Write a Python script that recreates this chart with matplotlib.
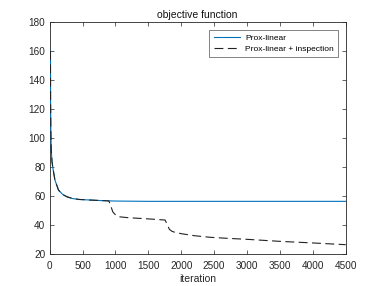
import matplotlib
matplotlib.use("Agg")
import matplotlib.pyplot as plt

# Prox-linear (blue, solid)
it_prox = [12, 14, 18, 24, 35, 50, 80, 135, 200, 260, 350, 450, 615, 800, 1000, 1500, 4500]
val_prox = [160, 125, 105, 92, 84, 79, 71, 64, 61, 59.5, 58.2, 57.6, 57.2, 56.8, 56.5, 56.3, 56.3]

# Prox-linear + inspection (black, dashed)
it_insp = [12, 14, 18, 24, 35, 50, 80, 135, 200, 260, 350, 450, 615, 800, 900,
           930, 960, 1000, 1045, 1200, 1500, 1755, 1790, 1820, 1860, 1900,
           2000, 2200, 2440, 2700, 3000, 3500, 4000, 4500]
val_insp = [160, 125, 105, 92, 84, 79, 71, 64, 61, 59.5, 58.2, 57.6, 57.2, 56.8, 56.6,
            53, 49, 47, 45.7, 45, 44.2, 43.4, 40, 37, 35.6, 35,
            34, 32.6, 31.5, 30.8, 30.1, 28.7, 27.6, 26.4]

plt.rcParams["font.family"] = ["Liberation Sans", "DejaVu Sans"]
plt.rcParams["font.size"] = 7

fig = plt.figure(figsize=(3.82, 2.86), dpi=100)
ax = fig.add_axes([0.13, 0.112, 0.775, 0.811])

ax.plot(it_prox, val_prox, color="#0072BD", linewidth=0.8, label="Prox-linear", zorder=3)
ax.plot(it_insp, val_insp, color="#222222", linewidth=0.8, linestyle=(0, (8, 4)),
        label="Prox-linear + inspection", zorder=3)

ax.set_xlim(0, 4500)
ax.set_ylim(20, 180)
ax.set_xticks(range(0, 4501, 500))
ax.set_yticks(range(20, 181, 20))
ax.tick_params(direction="in", length=3, width=0.5, top=True, right=True,
               colors="#262626", labelsize=7.2)
ax.tick_params(axis="x", pad=5)
ax.tick_params(axis="y", pad=3)
for s in ax.spines.values():
    s.set_linewidth(0.6)
    s.set_color("#262626")

ax.set_xlabel("iteration", fontsize=7.5, color="#262626", labelpad=2)
ax.set_title("objective function", fontsize=7.5, color="#111111", pad=3)

leg = ax.legend(loc="upper right", fontsize=6, handlelength=3.2, frameon=True,
                fancybox=False, borderaxespad=0.9, borderpad=0.5, labelspacing=0.45,
                handletextpad=0.6)
leg.get_frame().set_edgecolor("#262626")
leg.get_frame().set_linewidth(0.5)

fig.savefig("out.png", dpi=100)
